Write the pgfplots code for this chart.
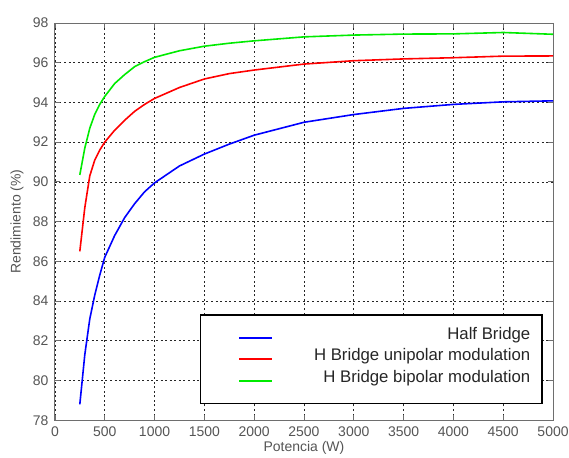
\documentclass[border=0pt]{standalone}
\usepackage{pgfplots}
\pgfplotsset{compat=1.18}
\usepackage{fontspec}
\setmainfont{Liberation Sans}
\definecolor{mblue}{RGB}{0,0,255}
\definecolor{mred}{RGB}{255,0,0}
\definecolor{mgreen}{RGB}{0,235,0}
\definecolor{tickgray}{RGB}{85,85,85}
\definecolor{framegray}{RGB}{110,110,110}
\begin{document}
\begin{tikzpicture}
\begin{axis}[
  scale only axis,
  width=499pt, height=398pt,
  xmin=0, xmax=5000, ymin=78, ymax=98,
  xtick={0,500,...,5000}, ytick={78,80,...,98},
  /pgf/number format/assume math mode=true,
  /pgf/number format/set thousands separator={},
  scaled x ticks=false,
  tick label style={font=\fontsize{14}{16}\selectfont, text=tickgray},
  xticklabel style={yshift=-3pt},
  yticklabel style={xshift=-3pt},
  tick align=inside,
  major tick length=5pt,
  tick style={color=framegray, line width=0.8pt},
  axis line style={color=framegray, line width=0.9pt},
  grid=major,
  major grid style={black!85, dash pattern=on 2pt off 2.6pt, line width=0.7pt},
  every axis x label/.style={at={(axis description cs:0.5,0)}, yshift=-28pt, anchor=center},
  every axis y label/.style={at={(axis description cs:0,0.5)}, xshift=-38pt, rotate=90, anchor=center},
  label style={font=\fontsize{14}{16}\selectfont, text=tickgray},
  xlabel={Potencia (W)},
  ylabel={Rendimiento (\%)},
  legend cell align=right,
  legend image code/.code={\path (-30pt,0pt); \draw[#1, line width=2pt] (0pt,0pt) -- (33pt,0pt);},
  legend style={
    at={(rel axis cs:0.980,0.040)}, anchor=south east,
    draw=black, line width=1.6pt, fill=white,
    font=\fontsize{16.8}{18}\selectfont, text=black!85,
    inner xsep=8pt, inner ysep=12pt,
    nodes={inner xsep=4pt, inner ysep=0pt, text height=12pt, text depth=9.5pt},
    /tikz/column 1/.style={column sep=37pt},
  },
]
\addplot[mblue, line width=1.6pt] coordinates {
(250,78.8) (300,81.3) (350,83.1) (400,84.3) (450,85.3) (500,86.2) (600,87.3) (700,88.2) (800,88.9) (900,89.5) (1000,89.95) (1250,90.8) (1500,91.4) (1750,91.9) (2000,92.35) (2500,93.0) (3000,93.39) (3500,93.7) (4000,93.9) (4500,94.03) (5000,94.08)
};
\addlegendentry{Half Bridge}
\addplot[mred, line width=1.6pt] coordinates {
(250,86.5) (300,88.7) (350,90.3) (400,91.1) (450,91.6) (500,92.0) (600,92.6) (700,93.1) (800,93.55) (900,93.9) (1000,94.2) (1250,94.75) (1500,95.18) (1750,95.45) (2000,95.63) (2500,95.93) (3000,96.1) (3500,96.19) (4000,96.25) (4500,96.33) (5000,96.34)
};
\addlegendentry{H Bridge unipolar modulation}
\addplot[mgreen, line width=1.6pt] coordinates {
(250,90.35) (300,91.7) (350,92.7) (400,93.4) (450,93.9) (500,94.3) (600,94.95) (700,95.4) (800,95.8) (900,96.05) (1000,96.27) (1250,96.6) (1500,96.83) (1750,96.98) (2000,97.1) (2500,97.3) (3000,97.39) (3500,97.44) (4000,97.45) (4500,97.52) (5000,97.43)
};
\addlegendentry{H Bridge bipolar modulation}
\coordinate (bl) at (rel axis cs:0,0);
\coordinate (tr) at (rel axis cs:1,1);
\end{axis}
\pgfresetboundingbox
\path ([shift={(-55pt,-37pt)}]bl) rectangle ([shift={(16pt,23pt)}]tr);
\end{tikzpicture}
\end{document}
